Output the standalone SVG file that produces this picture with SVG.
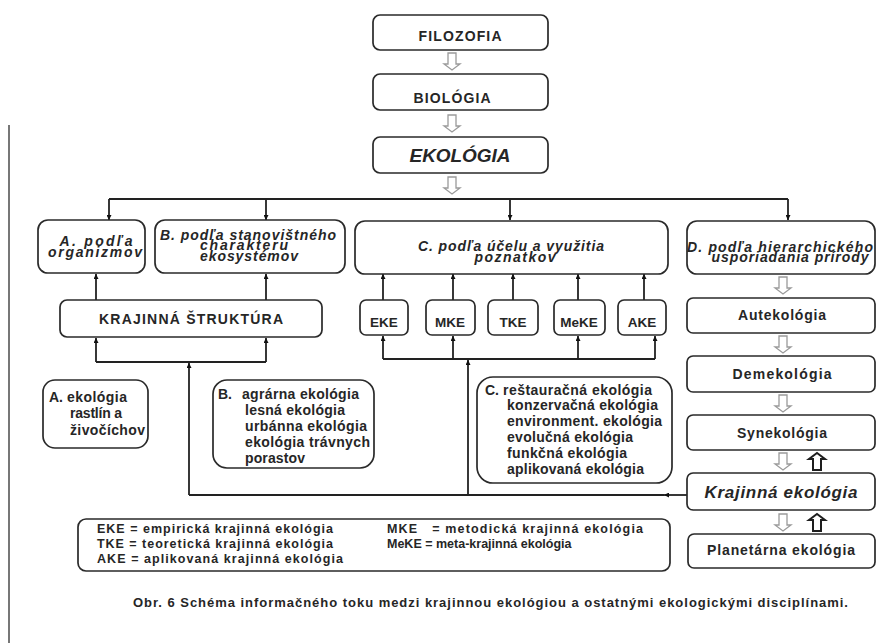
<svg xmlns="http://www.w3.org/2000/svg" width="877" height="643" viewBox="0 0 877 643">
<style>
.box{fill:#fff;stroke:#2a2a2a;stroke-width:1.7}
.t{font-family:"Liberation Sans",Arial,sans-serif;font-weight:bold;fill:#262626}
.c{text-anchor:middle}
.i{font-style:italic}
.ln{fill:none;stroke:#222;stroke-width:1.8}
.hd{fill:#fff;stroke:#9a9a9a;stroke-width:1.3}
.hu{fill:#fff;stroke:#1e1e1e;stroke-width:2}
</style>
<defs>
<marker id="ah" viewBox="0 0 10 10" refX="10" refY="5" markerWidth="6" markerHeight="5" orient="auto" markerUnits="userSpaceOnUse"><path d="M0,0 L10,5 L0,10 z" fill="#111"/></marker>
<path id="hd" d="M-4,0 H4 V11 H8 L0,17 L-8,11 H-4 Z"/>
<path id="hu" d="M-4,17 H4 V6 H8 L0,0 L-8,6 H-4 Z"/>
</defs>
<rect width="877" height="643" fill="#fff"/>
<line x1="9" y1="125" x2="9" y2="643" stroke="#555" stroke-width="1.6"/>

<g id="connectors">
<path class="ln" d="M109,199 H788"/>
<path class="ln" d="M109,199 V220" marker-end="url(#ah)"/>
<path class="ln" d="M266,199 V220" marker-end="url(#ah)"/>
<path class="ln" d="M510,199 V220" marker-end="url(#ah)"/>
<path class="ln" d="M788,199 V220" marker-end="url(#ah)"/>
<path class="ln" d="M96,300 V274" marker-end="url(#ah)"/>
<path class="ln" d="M266,300 V274" marker-end="url(#ah)"/>
<path class="ln" d="M383,300 V274" marker-end="url(#ah)"/>
<path class="ln" d="M453,300 V274" marker-end="url(#ah)"/>
<path class="ln" d="M513,300 V274" marker-end="url(#ah)"/>
<path class="ln" d="M578,300 V274" marker-end="url(#ah)"/>
<path class="ln" d="M644,300 V274" marker-end="url(#ah)"/>
<path class="ln" d="M96,362 H266"/>
<path class="ln" d="M96,362 V338" marker-end="url(#ah)"/>
<path class="ln" d="M266,362 V338" marker-end="url(#ah)"/>
<path class="ln" d="M189,495 V363" marker-end="url(#ah)"/>
<path class="ln" d="M383,359 H655"/>
<path class="ln" d="M383,359 V336" marker-end="url(#ah)"/>
<path class="ln" d="M453,359 V336" marker-end="url(#ah)"/>
<path class="ln" d="M578,359 V336" marker-end="url(#ah)"/>
<path class="ln" d="M655,359 V336" marker-end="url(#ah)"/>
<path class="ln" d="M468,495 V360" marker-end="url(#ah)"/>
<path class="ln" d="M687,495 H664" marker-end="url(#ah)"/>
<path class="ln" d="M664,495 H189"/>
<use href="#hd" class="hd" transform="translate(452,53)"/>
<use href="#hd" class="hd" transform="translate(452,115)"/>
<use href="#hd" class="hd" transform="translate(452,177)"/>
<use href="#hd" class="hd" transform="translate(783,277)"/>
<use href="#hd" class="hd" transform="translate(783,336)"/>
<use href="#hd" class="hd" transform="translate(783,395)"/>
<use href="#hd" class="hd" transform="translate(783,453)"/>
<use href="#hd" class="hd" transform="translate(783,514)"/>
<use href="#hu" class="hu" transform="translate(817,453)"/>
<use href="#hu" class="hu" transform="translate(817,514)"/>
</g>

<g id="filozofia"><rect class="box" x="373" y="15" width="175" height="35" rx="7"/><text class="t c" x="460" y="41" font-size="14" textLength="83">FILOZOFIA</text></g>
<g id="biologia"><rect class="box" x="373" y="74" width="175" height="36" rx="7"/><text class="t c" x="452" y="103" font-size="14" textLength="77">BIOLÓGIA</text></g>
<g id="ekologia"><rect class="box" x="373" y="137" width="175" height="36" rx="7"/><text class="t c i" x="460" y="162" font-size="19" textLength="101">EKOLÓGIA</text></g>

<g id="a-organizmov"><rect class="box" x="38" y="220" width="107" height="53" rx="10"/>
<text class="t c i" x="96" y="246" font-size="14" textLength="73">A. podľa</text>
<text class="t c i" x="95" y="257" font-size="14" textLength="94">organizmov</text></g>
<g id="b-stanovistne"><rect class="box" x="155" y="220" width="190" height="53" rx="10"/>
<text class="t c i" x="248" y="240" font-size="14" textLength="176">B. podľa stanovištného</text>
<text class="t c i" x="244" y="250" font-size="14" textLength="88">charakteru</text>
<text class="t c i" x="249" y="261" font-size="14" textLength="98">ekosystémov</text></g>
<g id="c-ucel"><rect class="box" x="355" y="221" width="313" height="53" rx="10"/>
<text class="t c i" x="511" y="251" font-size="14" textLength="186">C. podľa účelu a využitia</text>
<text class="t c i" x="515" y="262" font-size="14" textLength="81">poznatkov</text></g>
<g id="d-hierarchia"><rect class="box" x="687" y="221" width="188" height="53" rx="10"/>
<text class="t c i" x="780" y="252" font-size="14" textLength="186">D. podľa hierarchického</text>
<text class="t c i" x="790" y="262" font-size="14" textLength="157">usporiadania prírody</text></g>

<g id="krajinna-struktura"><rect class="box" x="60" y="300" width="262" height="37" rx="7"/><text class="t c" x="191" y="324" font-size="14" textLength="184">KRAJINNÁ ŠTRUKTÚRA</text></g>
<g id="eke"><rect class="box" x="360" y="300" width="48" height="35" rx="6"/><text class="t c" x="384" y="327" font-size="13.5">EKE</text></g>
<g id="mke"><rect class="box" x="426" y="300" width="49" height="35" rx="6"/><text class="t c" x="450" y="327" font-size="13.5">MKE</text></g>
<g id="tke"><rect class="box" x="488" y="300" width="50" height="35" rx="6"/><text class="t c" x="513" y="327" font-size="13.5">TKE</text></g>
<g id="meke"><rect class="box" x="554" y="300" width="51" height="35" rx="6"/><text class="t c" x="579" y="327" font-size="13.5">MeKE</text></g>
<g id="ake"><rect class="box" x="618" y="300" width="48" height="35" rx="6"/><text class="t c" x="642" y="327" font-size="13.5">AKE</text></g>

<g id="autekologia"><rect class="box" x="687" y="298" width="188" height="35" rx="6"/><text class="t c" x="782" y="320" font-size="14" textLength="88">Autekológia</text></g>
<g id="demekologia"><rect class="box" x="687" y="356" width="188" height="36" rx="6"/><text class="t c" x="782" y="379" font-size="14" textLength="99">Demekológia</text></g>
<g id="synekologia"><rect class="box" x="687" y="415" width="188" height="35" rx="6"/><text class="t c" x="782" y="438" font-size="14" textLength="90">Synekológia</text></g>
<g id="krajinna-ekologia"><rect class="box" x="687" y="473" width="188" height="37" rx="6"/><text class="t c i" x="781" y="498" font-size="17" textLength="153">Krajinná ekológia</text></g>
<g id="planetarna"><rect class="box" x="688" y="534" width="187" height="34" rx="6"/><text class="t c" x="781" y="555" font-size="14" textLength="148">Planetárna ekológia</text></g>

<g id="a-ekologia"><rect class="box" x="43" y="380" width="105" height="68" rx="12"/>
<text class="t" font-size="14"><tspan x="49" y="402">A.</tspan><tspan x="67" y="402" textLength="60">ekológia</tspan><tspan x="70" y="418" textLength="52">rastlín a</tspan><tspan x="70" y="435" textLength="75">živočíchov</tspan></text></g>
<g id="b-ekologia"><rect class="box" x="213" y="380" width="161" height="88" rx="14"/>
<text class="t" font-size="14"><tspan x="218" y="399">B.</tspan><tspan x="242" y="399" textLength="117">agrárna ekológia</tspan><tspan x="245" y="415" textLength="100">lesná ekológia</tspan><tspan x="245" y="431" textLength="122">urbánna ekológia</tspan><tspan x="245" y="447" textLength="125">ekológia trávnych</tspan><tspan x="245" y="463" textLength="60">porastov</tspan></text></g>
<g id="c-ekologia"><rect class="box" x="477" y="377" width="195" height="106" rx="16"/>
<text class="t" font-size="14"><tspan x="485" y="395">C.</tspan><tspan x="503" y="395" textLength="149">reštauračná ekológia</tspan><tspan x="507" y="410" textLength="151">konzervačná ekológia</tspan><tspan x="507" y="426" textLength="155">environment. ekológia</tspan><tspan x="507" y="442" textLength="126">evolučná ekológia</tspan><tspan x="507" y="458" textLength="120">funkčná ekológia</tspan><tspan x="507" y="474" textLength="137">aplikovaná ekológia</tspan></text></g>

<g id="legenda"><rect class="box" x="78" y="519" width="592" height="52" rx="8"/>
<text class="t" font-size="12.5"><tspan x="97" y="533" textLength="236">EKE = empirická krajinná ekológia</tspan><tspan x="97" y="548" textLength="236">TKE = teoretická krajinná ekológia</tspan><tspan x="97" y="563" textLength="246">AKE = aplikovaná krajinná ekológia</tspan><tspan x="387" y="533" textLength="256" xml:space="preserve">MKE   = metodická krajinná ekológia</tspan><tspan x="387" y="548">MeKE = meta-krajinná ekológia</tspan></text></g>

<text class="t" x="133" y="607" font-size="13" textLength="715">Obr. 6 Schéma informačného toku medzi krajinnou ekológiou a ostatnými ekologickými disciplínami.</text>
</svg>
